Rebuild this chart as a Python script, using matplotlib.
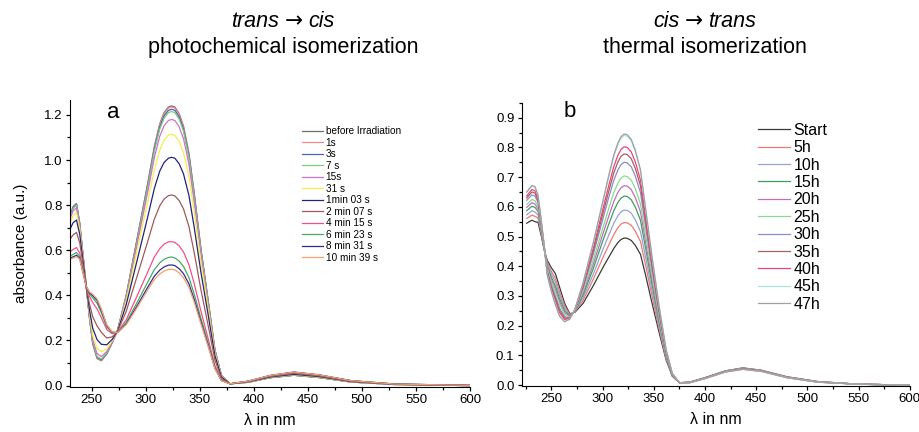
import matplotlib
matplotlib.use("Agg")
import matplotlib.pyplot as plt
from matplotlib.ticker import MultipleLocator, FormatStrFormatter
from matplotlib.offsetbox import TextArea, HPacker, AnnotationBbox

plt.rcParams['font.family'] = ['Liberation Sans', 'DejaVu Sans']

# ---- panel a: trans -> cis (photochemical) ----
wl_a = [230, 233, 236, 239, 242, 245, 248, 251, 255, 259, 264, 269, 274, 282, 292, 302,
        308, 313, 317, 321, 324, 327, 331, 335, 340, 345,
        351, 358, 364, 370, 378, 395, 415, 437, 460, 490, 530, 600]

labels_a = ['before Irradiation', '1s', '3s', '7 s', '15s', '31 s', '1min 03 s', '2 min 07 s',
            '4 min 15 s', '6 min 23 s', '8 min 31 s', '10 min 39 s']

before_irr = [0.755, 0.795, 0.808, 0.720, 0.580, 0.440, 0.300, 0.185, 0.120, 0.110, 0.140, 0.190,
              0.245, 0.400, 0.650, 0.900,
              1.060, 1.160, 1.210, 1.235, 1.240, 1.235, 1.205, 1.150, 1.030, 0.850,
              0.610, 0.370, 0.160, 0.045, 0.008, 0.015, 0.035, 0.046, 0.036, 0.016, 0.005, 0.000]
irr_1s = [0.754, 0.793, 0.806, 0.719, 0.579, 0.440, 0.301, 0.187, 0.122, 0.112, 0.141, 0.190,
          0.245, 0.399, 0.648, 0.897,
          1.056, 1.155, 1.205, 1.230, 1.235, 1.230, 1.200, 1.145, 1.026, 0.847,
          0.608, 0.369, 0.159, 0.045, 0.008, 0.015, 0.035, 0.046, 0.036, 0.016, 0.005, 0.000]
irr_3s = [0.751, 0.790, 0.803, 0.717, 0.578, 0.440, 0.302, 0.190, 0.126, 0.115, 0.143, 0.191,
          0.245, 0.397, 0.644, 0.890,
          1.048, 1.146, 1.195, 1.220, 1.225, 1.220, 1.190, 1.136, 1.018, 0.840,
          0.603, 0.366, 0.158, 0.045, 0.008, 0.015, 0.035, 0.046, 0.036, 0.016, 0.005, 0.000]
irr_7s = [0.748, 0.787, 0.800, 0.714, 0.577, 0.440, 0.304, 0.193, 0.129, 0.118, 0.145, 0.192,
          0.245, 0.395, 0.639, 0.883,
          1.039, 1.137, 1.185, 1.210, 1.215, 1.210, 1.180, 1.127, 1.009, 0.833,
          0.598, 0.363, 0.157, 0.044, 0.008, 0.015, 0.035, 0.046, 0.036, 0.016, 0.005, 0.000]
irr_15s = [0.739, 0.776, 0.788, 0.707, 0.573, 0.440, 0.310, 0.203, 0.142, 0.129, 0.151, 0.194,
           0.244, 0.389, 0.625, 0.861,
           1.011, 1.105, 1.152, 1.175, 1.180, 1.175, 1.147, 1.094, 0.981, 0.810,
           0.582, 0.353, 0.153, 0.043, 0.008, 0.015, 0.036, 0.047, 0.037, 0.016, 0.005, 0.000]
irr_31s = [0.721, 0.755, 0.767, 0.692, 0.566, 0.440, 0.320, 0.223, 0.166, 0.150, 0.163, 0.198,
           0.243, 0.377, 0.597, 0.817,
           0.957, 1.044, 1.088, 1.110, 1.114, 1.109, 1.082, 1.033, 0.927, 0.766,
           0.552, 0.335, 0.145, 0.041, 0.008, 0.016, 0.037, 0.048, 0.038, 0.017, 0.005, 0.000]
irr_63s = [0.694, 0.723, 0.734, 0.670, 0.555, 0.440, 0.336, 0.254, 0.204, 0.183, 0.181, 0.205,
           0.242, 0.359, 0.554, 0.750,
           0.874, 0.951, 0.989, 1.008, 1.012, 1.008, 0.983, 0.938, 0.843, 0.698,
           0.505, 0.307, 0.133, 0.038, 0.008, 0.017, 0.038, 0.050, 0.040, 0.018, 0.006, 0.000]
irr_127s = [0.649, 0.669, 0.679, 0.633, 0.536, 0.440, 0.363, 0.305, 0.265, 0.236, 0.211, 0.216,
            0.240, 0.329, 0.484, 0.641,
            0.738, 0.797, 0.827, 0.842, 0.845, 0.841, 0.820, 0.783, 0.705, 0.587,
            0.427, 0.261, 0.114, 0.032, 0.008, 0.018, 0.040, 0.054, 0.043, 0.019, 0.006, 0.001]
irr_255s = [0.593, 0.604, 0.612, 0.587, 0.514, 0.440, 0.396, 0.368, 0.340, 0.301, 0.248, 0.230,
            0.237, 0.292, 0.397, 0.505,
            0.570, 0.607, 0.627, 0.637, 0.638, 0.635, 0.619, 0.592, 0.536, 0.450,
            0.332, 0.204, 0.089, 0.026, 0.008, 0.019, 0.043, 0.058, 0.046, 0.021, 0.007, 0.001]
irr_383s = [0.574, 0.582, 0.590, 0.572, 0.506, 0.440, 0.407, 0.389, 0.365, 0.323, 0.260, 0.234,
            0.236, 0.280, 0.368, 0.460,
            0.514, 0.544, 0.560, 0.568, 0.570, 0.566, 0.552, 0.528, 0.479, 0.404,
            0.300, 0.185, 0.081, 0.024, 0.008, 0.020, 0.044, 0.059, 0.047, 0.022, 0.007, 0.001]
irr_511s = [0.565, 0.571, 0.578, 0.564, 0.502, 0.440, 0.412, 0.399, 0.378, 0.334, 0.267, 0.237,
            0.235, 0.273, 0.353, 0.437,
            0.485, 0.512, 0.526, 0.534, 0.535, 0.532, 0.518, 0.496, 0.451, 0.381,
            0.284, 0.175, 0.077, 0.023, 0.008, 0.020, 0.045, 0.060, 0.048, 0.022, 0.007, 0.001]
irr_639s = [0.560, 0.565, 0.572, 0.560, 0.500, 0.440, 0.415, 0.405, 0.385, 0.340, 0.270, 0.238,
            0.235, 0.270, 0.345, 0.425,
            0.470, 0.495, 0.508, 0.515, 0.516, 0.513, 0.500, 0.478, 0.435, 0.368,
            0.275, 0.170, 0.075, 0.022, 0.008, 0.020, 0.045, 0.060, 0.048, 0.022, 0.007, 0.001]

series_a = [before_irr, irr_1s, irr_3s, irr_7s, irr_15s, irr_31s, irr_63s, irr_127s,
            irr_255s, irr_383s, irr_511s, irr_639s]
colors_a = ['#6e6e6e', '#f08a8a', '#4a62c0', '#78d078', '#d070c8', '#f2ee50',
            '#23237a', '#a05a5a', '#f0508a', '#4aa868', '#2e2e8e', '#f5a26a']

# ---- panel b: cis -> trans (thermal) ----
wl_b = [226, 231, 234, 237, 240, 243, 246, 250, 254, 258, 263, 268, 273, 281, 291, 301,
        306, 311, 315, 318, 321, 324, 328, 332, 337, 342,
        348, 355, 362, 368, 375, 385, 400, 420, 437, 455, 480, 510, 550, 600]

labels_b = ['Start', '5h', '10h', '15h', '20h', '25h', '30h', '35h', '40h', '45h', '47h']

t_start = [0.545, 0.555, 0.550, 0.548, 0.505, 0.455, 0.420, 0.395, 0.375, 0.330, 0.275, 0.240,
           0.245, 0.275, 0.335, 0.400,
           0.430, 0.460, 0.480, 0.490, 0.495, 0.494, 0.487, 0.470, 0.440, 0.370,
           0.280, 0.180, 0.085, 0.030, 0.008, 0.010, 0.025, 0.048, 0.058, 0.050, 0.028, 0.012, 0.003, 0.000]
t_5h = [0.561, 0.572, 0.568, 0.562, 0.513, 0.457, 0.413, 0.383, 0.359, 0.315, 0.266, 0.237,
        0.247, 0.285, 0.357, 0.434,
        0.471, 0.507, 0.530, 0.542, 0.547, 0.546, 0.538, 0.518, 0.483, 0.404,
        0.304, 0.193, 0.090, 0.032, 0.008, 0.010, 0.025, 0.047, 0.057, 0.049, 0.028, 0.012, 0.003, 0.000]
t_10h = [0.573, 0.587, 0.582, 0.573, 0.520, 0.459, 0.407, 0.374, 0.347, 0.304, 0.258, 0.235,
         0.248, 0.294, 0.374, 0.462,
         0.504, 0.545, 0.570, 0.583, 0.589, 0.588, 0.579, 0.556, 0.517, 0.431,
         0.323, 0.204, 0.094, 0.033, 0.008, 0.009, 0.024, 0.047, 0.057, 0.049, 0.027, 0.011, 0.003, 0.000]
t_15h = [0.587, 0.602, 0.598, 0.585, 0.527, 0.461, 0.400, 0.363, 0.333, 0.291, 0.250, 0.233,
         0.249, 0.303, 0.393, 0.493,
         0.541, 0.587, 0.615, 0.629, 0.636, 0.635, 0.624, 0.599, 0.555, 0.461,
         0.345, 0.216, 0.099, 0.034, 0.008, 0.009, 0.024, 0.046, 0.056, 0.048, 0.027, 0.011, 0.003, 0.000]
t_20h = [0.598, 0.614, 0.609, 0.594, 0.533, 0.463, 0.395, 0.355, 0.322, 0.281, 0.244, 0.231,
         0.250, 0.310, 0.408, 0.516,
         0.568, 0.618, 0.649, 0.664, 0.671, 0.670, 0.658, 0.631, 0.583, 0.483,
         0.361, 0.225, 0.103, 0.035, 0.008, 0.009, 0.023, 0.046, 0.055, 0.048, 0.026, 0.011, 0.003, 0.000]
t_25h = [0.608, 0.625, 0.620, 0.603, 0.538, 0.464, 0.390, 0.347, 0.312, 0.272, 0.238, 0.229,
         0.251, 0.317, 0.422, 0.537,
         0.594, 0.648, 0.680, 0.697, 0.704, 0.702, 0.690, 0.661, 0.610, 0.504,
         0.376, 0.234, 0.106, 0.036, 0.008, 0.009, 0.023, 0.046, 0.055, 0.048, 0.026, 0.011, 0.003, 0.000]
t_30h = [0.622, 0.640, 0.636, 0.615, 0.545, 0.466, 0.384, 0.337, 0.299, 0.259, 0.230, 0.227,
         0.252, 0.326, 0.441, 0.568,
         0.631, 0.690, 0.724, 0.742, 0.750, 0.748, 0.735, 0.703, 0.648, 0.534,
         0.397, 0.246, 0.111, 0.037, 0.008, 0.009, 0.023, 0.045, 0.054, 0.047, 0.026, 0.011, 0.003, 0.000]
t_35h = [0.630, 0.650, 0.646, 0.622, 0.550, 0.467, 0.380, 0.330, 0.290, 0.251, 0.225, 0.225,
         0.253, 0.332, 0.452, 0.586,
         0.652, 0.715, 0.751, 0.770, 0.778, 0.776, 0.762, 0.729, 0.671, 0.552,
         0.409, 0.253, 0.113, 0.038, 0.008, 0.008, 0.023, 0.045, 0.054, 0.047, 0.026, 0.010, 0.003, 0.000]
t_40h = [0.637, 0.658, 0.654, 0.629, 0.553, 0.468, 0.376, 0.325, 0.283, 0.244, 0.221, 0.224,
         0.254, 0.336, 0.462, 0.602,
         0.671, 0.736, 0.774, 0.793, 0.802, 0.800, 0.785, 0.751, 0.690, 0.567,
         0.420, 0.259, 0.116, 0.039, 0.008, 0.008, 0.022, 0.045, 0.054, 0.047, 0.025, 0.010, 0.003, 0.000]
t_45h = [0.649, 0.670, 0.666, 0.639, 0.559, 0.470, 0.371, 0.316, 0.272, 0.233, 0.214, 0.222,
         0.255, 0.344, 0.478, 0.627,
         0.701, 0.771, 0.810, 0.831, 0.840, 0.838, 0.822, 0.786, 0.721, 0.592,
         0.438, 0.269, 0.120, 0.040, 0.008, 0.008, 0.022, 0.044, 0.053, 0.046, 0.025, 0.010, 0.003, 0.000]
t_47h = [0.650, 0.672, 0.668, 0.640, 0.560, 0.470, 0.370, 0.315, 0.270, 0.232, 0.213, 0.222,
         0.255, 0.345, 0.480, 0.630,
         0.705, 0.775, 0.815, 0.836, 0.845, 0.843, 0.827, 0.790, 0.725, 0.595,
         0.440, 0.270, 0.120, 0.040, 0.008, 0.008, 0.022, 0.044, 0.053, 0.046, 0.025, 0.010, 0.003, 0.000]

series_b = [t_start, t_5h, t_10h, t_15h, t_20h, t_25h, t_30h, t_35h, t_40h, t_45h, t_47h]
colors_b = ['#3a3a3a', '#f07870', '#94a4d4', '#3e9e5e', '#c070b8', '#8ed88e',
            '#8c8cc8', '#a86060', '#e8457a', '#a8e4e4', '#a0a0a0']


def style_axes(ax, ymajor, yminor):
    for side in ['top', 'right']:
        ax.spines[side].set_visible(False)
    ax.xaxis.set_major_locator(MultipleLocator(50))
    ax.xaxis.set_minor_locator(MultipleLocator(25))
    ax.yaxis.set_major_locator(MultipleLocator(ymajor))
    ax.yaxis.set_minor_locator(MultipleLocator(yminor))
    ax.yaxis.set_major_formatter(FormatStrFormatter('%.1f'))
    ax.tick_params(which='major', direction='out', length=3.2, width=0.9, labelsize=9.5, pad=2)
    ax.tick_params(which='minor', direction='out', length=2.2, width=0.9)
    ax.set_xlabel('λ in nm', fontsize=11.5, labelpad=5)


def two_part_title(fig, x, y, first, second):
    # italic isomer names with a plain arrow between them
    parts = [TextArea(first, textprops=dict(style='italic', size=15.5)),
             TextArea('→', textprops=dict(family='DejaVu Sans', size=15.5)),
             TextArea(second, textprops=dict(style='italic', size=15.5))]
    box = HPacker(children=parts, align='baseline', pad=0, sep=4)
    ab = AnnotationBbox(box, (x, y), xycoords='figure fraction', frameon=False,
                        box_alignment=(0.5, 0.5))
    fig.add_artist(ab)


fig = plt.figure(figsize=(9.2, 4.32), dpi=100)

# panel a
ax1 = fig.add_axes([0.0761, 0.1053, 0.4348, 0.6632])
for ys, c, lab in zip(series_a, colors_a, labels_a):
    ax1.plot(wl_a, ys, color=c, lw=0.9, label=lab)
ax1.set_xlim(230, 600)
ax1.set_ylim(-0.004, 1.266)
style_axes(ax1, 0.2, 0.1)
ax1.set_ylabel('absorbance (a.u.)', fontsize=11, labelpad=12)
ax1.text(270, 1.209, 'a', fontsize=16, ha='center', va='center')
ax1.legend(loc='upper left', bbox_to_anchor=(0.579, 0.909), frameon=False, fontsize=7.2,
           handlelength=2.1, handletextpad=0.3, labelspacing=0.15, borderpad=0, borderaxespad=0)

# panel b
ax2 = fig.add_axes([0.567, 0.1065, 0.422, 0.6558])
for ys, c, lab in zip(series_b, colors_b, labels_b):
    ax2.plot(wl_b, ys, color=c, lw=0.9, label=lab)
ax2.set_xlim(221, 600)
ax2.set_ylim(-0.003, 0.9505)
style_axes(ax2, 0.1, 0.05)
ax2.text(268, 0.92, 'b', fontsize=16, ha='center', va='center')
ax2.legend(loc='upper left', bbox_to_anchor=(0.609, 0.929), frameon=False, fontsize=11.5,
           handlelength=2.0, handletextpad=0.22, labelspacing=0.15, borderpad=0, borderaxespad=0)

# titles above the panels
two_part_title(fig, 0.3076, 0.950, 'trans', 'cis')
fig.text(0.3076, 0.890, 'photochemical isomerization', fontsize=15.5, ha='center', va='center')
two_part_title(fig, 0.766, 0.950, 'cis', 'trans')
fig.text(0.766, 0.890, 'thermal isomerization', fontsize=15.5, ha='center', va='center')

fig.savefig('out.png', dpi=100)
